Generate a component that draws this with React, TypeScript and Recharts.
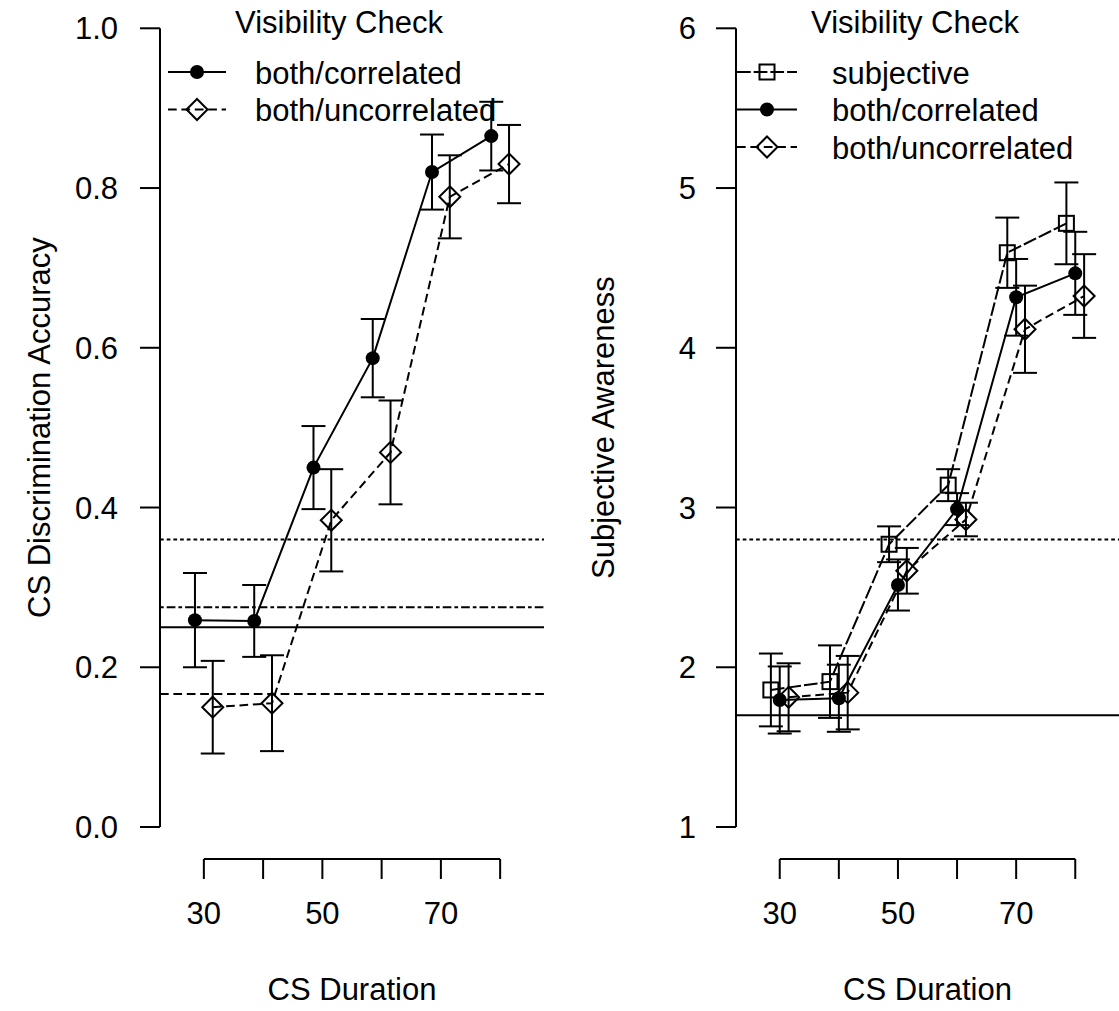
import { ComposedChart, ErrorBar, Legend, Line, ReferenceLine, XAxis, YAxis } from "recharts";

// CS durations (ms) and which of them get a printed label
const durations = [30, 40, 50, 60, 70, 80];
const durationLabels = ["30", "", "50", "", "70", ""];

// left panel: CS discrimination accuracy
const accCorrMean = [0.259, 0.258, 0.45, 0.587, 0.82, 0.865];
const accCorrSe = [0.059, 0.045, 0.052, 0.049, 0.047, 0.043];
const accUncorrMean = [0.15, 0.155, 0.384, 0.469, 0.789, 0.83];
const accUncorrSe = [0.058, 0.06, 0.064, 0.065, 0.052, 0.049];
const accTicks = [0, 0.2, 0.4, 0.6, 0.8, 1.0];
const accLevels = [0.36, 0.275, 0.25, 1 / 6];

// right panel: subjective awareness ratings
const awSubjMean = [1.858, 1.91, 2.77, 3.14, 4.595, 4.779];
const awSubjSe = [0.228, 0.227, 0.112, 0.1, 0.22, 0.256];
const awCorrMean = [1.795, 1.806, 2.515, 2.99, 4.316, 4.466];
const awCorrSe = [0.21, 0.21, 0.16, 0.1, 0.24, 0.26];
const awUncorrMean = [1.812, 1.841, 2.604, 2.925, 4.116, 4.324];
const awUncorrSe = [0.213, 0.23, 0.143, 0.105, 0.273, 0.262];
const awTicks = [1, 2, 3, 4, 5, 6];
const awLevels = [2.8, 1.7];

const FONT = "'Liberation Sans', Arial, Helvetica, sans-serif";
const FS = 31;
const X_DOMAIN = [22.6, 87.4];
const DODGE = 1.5;

// R-like line types
const DASHED = "8.7 4.7";
const DOTTED = "3.7 3";
const DOTDASH = "3.7 3 8.7 3";
const LONGDASH = "13.7 3";

type Shape = "circle" | "diamond" | "square";

const toRows = (means: number[], ses: number[], shift: number) =>
  durations.map((d, i) => ({ x: d + shift, y: means[i], se: ses[i] }));

const Marker = ({ cx, cy, shape }: { cx: number; cy: number; shape: Shape }) => {
  if (shape === "circle") return <circle cx={cx} cy={cy} r={7} fill="#000" />;
  if (shape === "diamond") {
    const r = 10.5;
    return (
      <polygon
        points={`${cx},${cy - r} ${cx + r},${cy} ${cx},${cy + r} ${cx - r},${cy}`}
        fill="none"
        stroke="#000"
        strokeWidth={2}
      />
    );
  }
  return <rect x={cx - 7.5} y={cy - 7.5} width={15} height={15} fill="none" stroke="#000" strokeWidth={2} />;
};

const DurationTick = (props: any) => {
  const { x, y, payload, index } = props;
  return (
    <g>
      <line x1={x} x2={x} y1={y + 32} y2={y + 52} stroke="#000" strokeWidth={2} />
      <text x={x} y={y + 97} textAnchor="middle" fontSize={FS} fontFamily={FONT} fill="#000">
        {durationLabels[index] ?? payload.value}
      </text>
    </g>
  );
};

type Series = { name: string; shape: Shape; dash?: string; data: { x: number; y: number; se: number }[] };

const accSeries: Series[] = [
  { name: "both/correlated", shape: "circle", data: toRows(accCorrMean, accCorrSe, -DODGE) },
  { name: "both/uncorrelated", shape: "diamond", dash: DASHED, data: toRows(accUncorrMean, accUncorrSe, DODGE) },
];

const awSeries: Series[] = [
  { name: "subjective", shape: "square", dash: LONGDASH, data: toRows(awSubjMean, awSubjSe, -DODGE) },
  { name: "both/correlated", shape: "circle", data: toRows(awCorrMean, awCorrSe, 0) },
  { name: "both/uncorrelated", shape: "diamond", dash: DASHED, data: toRows(awUncorrMean, awUncorrSe, DODGE) },
];

const PanelLegend = ({ series, width, titleX, segX0, segX1, textX }: any) => (
  <svg width={width} height={170} style={{ display: "block" }}>
    <text x={titleX} y={33.3} textAnchor="middle" fontSize={FS} fontFamily={FONT} fill="#000">
      Visibility Check
    </text>
    {series.map((s: Series, i: number) => {
      const cy = 72 + i * 37.5;
      return (
        <g key={s.name}>
          <line x1={segX0} x2={segX1} y1={cy} y2={cy} stroke="#000" strokeWidth={2} strokeDasharray={s.dash} />
          <Marker cx={(segX0 + segX1) / 2} cy={cy} shape={s.shape} />
          <text x={textX} y={cy + 0.38 * FS} fontSize={FS} fontFamily={FONT} fill="#000">
            {s.name}
          </text>
        </g>
      );
    })}
  </svg>
);

type PanelProps = {
  width: number;
  axisWidth: number;
  rightMargin: number;
  tickMargin: number;
  yDomain: number[];
  yTicks: number[];
  yFmt: (v: number) => string;
  yTitle: string;
  yTitleX: number;
  series: Series[];
  levels: number[];
  levelDashes: (string | undefined)[];
  legend: { titleX: number; segX0: number; segX1: number; textX: number };
};

const Panel = (p: PanelProps) => {
  const span = p.yDomain[1] - p.yDomain[0];
  const axisBase = p.yDomain[0] - 0.04 * span;
  return (
    <ComposedChart width={p.width} height={1011} margin={{ top: 28.3, right: p.rightMargin, bottom: 0, left: 0 }}>
      <XAxis
        type="number"
        dataKey="x"
        domain={X_DOMAIN}
        allowDataOverflow
        ticks={durations}
        interval={0}
        axisLine={false}
        tickLine={false}
        tickSize={0}
        tickMargin={0}
        height={184}
        tick={<DurationTick />}
        label={(lp: any) => {
          const vb = lp.viewBox ?? { x: p.axisWidth, y: 827, width: p.width - p.axisWidth - p.rightMargin };
          return (
            <text x={vb.x + vb.width / 2} y={vb.y + 173} textAnchor="middle" fontSize={FS} fontFamily={FONT} fill="#000">
              CS Duration
            </text>
          );
        }}
      />
      <YAxis
        type="number"
        domain={p.yDomain}
        allowDataOverflow
        ticks={p.yTicks}
        interval={0}
        width={p.axisWidth}
        tickSize={20}
        tickMargin={p.tickMargin}
        axisLine={{ stroke: "#000", strokeWidth: 2 }}
        tickLine={{ stroke: "#000", strokeWidth: 2 }}
        tick={{ fill: "#000", fontSize: FS, fontFamily: FONT }}
        tickFormatter={p.yFmt}
        label={(lp: any) => {
          const vb = lp.viewBox ?? { y: 28.3, height: 798.7 };
          const cy = vb.y + vb.height / 2;
          return (
            <text
              x={p.yTitleX}
              y={cy}
              transform={`rotate(-90, ${p.yTitleX}, ${cy})`}
              textAnchor="middle"
              fontSize={FS}
              fontFamily={FONT}
              fill="#000"
            >
              {p.yTitle}
            </text>
          );
        }}
      />
      {p.levels.map((lv, i) => (
        <ReferenceLine
          key={`lv-${i}`}
          y={lv}
          stroke="#000"
          strokeWidth={2}
          strokeDasharray={p.levelDashes[i]}
          ifOverflow="visible"
        />
      ))}
      <ReferenceLine
        segment={[
          { x: durations[0], y: axisBase },
          { x: durations[durations.length - 1], y: axisBase },
        ]}
        stroke="#000"
        strokeWidth={2}
        ifOverflow="visible"
      />
      {p.series.map((s) => (
        <Line
          key={s.name}
          data={s.data}
          dataKey="y"
          name={s.name}
          type="linear"
          stroke="#000"
          strokeWidth={2}
          strokeDasharray={s.dash}
          isAnimationActive={false}
          activeDot={false}
          dot={(d: any) => <Marker key={`${s.name}-${d.index}`} cx={d.cx} cy={d.cy} shape={s.shape} />}
        >
          <ErrorBar dataKey="se" width={12} stroke="#000" strokeWidth={2} direction="y" isAnimationActive={false} />
        </Line>
      ))}
      <Legend
        layout="horizontal"
        verticalAlign="middle"
        align="center"
        wrapperStyle={{ top: 0, left: 0, width: p.width, height: 170 }}
        content={() => <PanelLegend series={p.series} width={p.width} {...p.legend} />}
      />
    </ComposedChart>
  );
};

export default function App() {
  return (
    <div style={{ position: "absolute", left: 0, top: 0, width: 1119, height: 1011, background: "#fff" }}>
      <div style={{ position: "absolute", left: 0, top: 0 }}>
        <Panel
          width={560}
          axisWidth={160}
          rightMargin={16}
          tickMargin={22}
          yDomain={[0, 1]}
          yTicks={accTicks}
          yFmt={(v) => v.toFixed(1)}
          yTitle="CS Discrimination Accuracy"
          yTitleX={50.5}
          series={accSeries}
          levels={accLevels}
          levelDashes={[DOTTED, DOTDASH, undefined, DASHED]}
          legend={{ titleX: 339, segX0: 168, segX1: 226, textX: 255 }}
        />
      </div>
      <div style={{ position: "absolute", left: 560, top: 0 }}>
        <Panel
          width={559}
          axisWidth={176}
          rightMargin={0}
          tickMargin={20}
          yDomain={[1, 6]}
          yTicks={awTicks}
          yFmt={(v) => String(v)}
          yTitle="Subjective Awareness"
          yTitleX={54}
          series={awSeries}
          levels={awLevels}
          levelDashes={[DOTTED, undefined]}
          legend={{ titleX: 355, segX0: 177, segX1: 237, textX: 272 }}
        />
      </div>
    </div>
  );
}
